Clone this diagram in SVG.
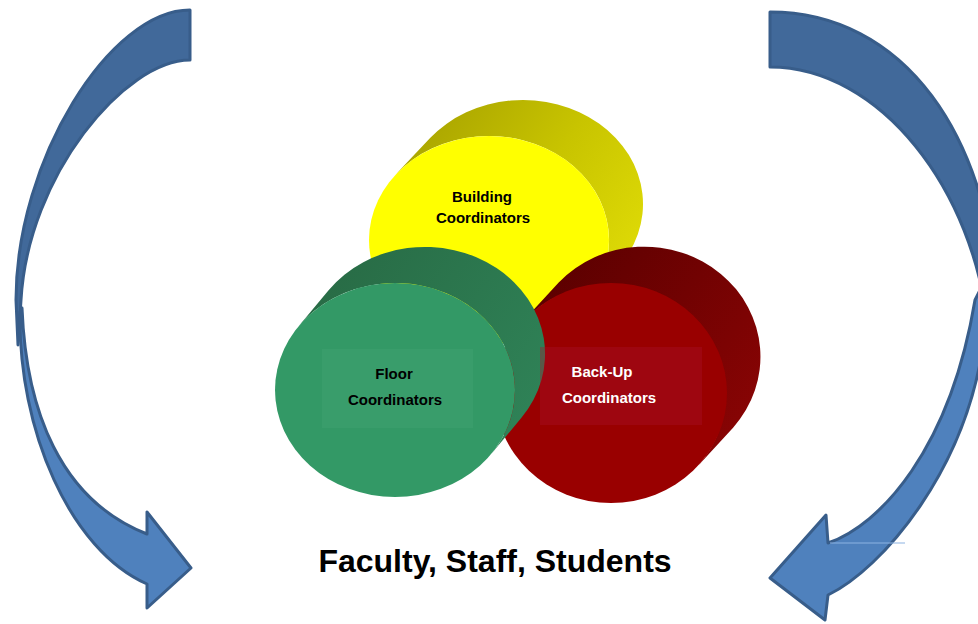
<svg xmlns="http://www.w3.org/2000/svg" width="978" height="624" viewBox="0 0 978 624">
<defs>
<linearGradient id="gY" gradientUnits="userSpaceOnUse" x1="440" y1="110" x2="640" y2="250">
<stop offset="0" stop-color="#ACA700"/><stop offset="0.5" stop-color="#C8C400"/><stop offset="1" stop-color="#DEDA06"/>
</linearGradient>
<linearGradient id="gG" gradientUnits="userSpaceOnUse" x1="330" y1="260" x2="545" y2="400">
<stop offset="0" stop-color="#286B45"/><stop offset="1" stop-color="#2F8257"/>
</linearGradient>
<linearGradient id="gR" gradientUnits="userSpaceOnUse" x1="560" y1="260" x2="760" y2="400">
<stop offset="0" stop-color="#5C0000"/><stop offset="1" stop-color="#870404"/>
</linearGradient>
</defs>
<style>
.lbl{font-family:"Liberation Sans",Arial,sans-serif;font-weight:bold;font-size:15px;text-anchor:middle}
.big{font-family:"Liberation Sans",Arial,sans-serif;font-weight:bold;font-size:32px;text-anchor:middle;fill:#000}
.back{fill:#41699A;stroke:#385D8A;stroke-width:3;stroke-linejoin:round}
.front{fill:#4F81BD;stroke:#385D8A;stroke-width:3;stroke-linejoin:round}
</style>
<rect width="978" height="624" fill="#FFFFFF"/>

<g id="connectors">
<g id="arrow-left">
<path class="back" d="M190,10 C110,10 16,160 16,300 L18,345 L21,300 C28,175 125,60 190,60 Z"/>
<path class="front" d="M20,312 C18,430 70,550 147,584 L147,608 L191,568 L147,512 L147,534 C60,500 26,410 22,308 Z"/>
</g>
<g id="arrow-right">
<path class="back" d="M770,12 C900,12 995,130 1000,330 L988,330 C975,190 880,67 770,67 Z"/>
<path class="front" d="M980,290 L985,330 C970,470 880,570 828,595 L825,620 L770,578 L826,515 L828,543 C880,525 950,450 975,300 Z"/>
<line x1="830" y1="543" x2="905" y2="543" stroke="#8DB3E2" stroke-width="1"/>
</g>
</g>

<g id="node-building">
<path fill="url(#gY)" d="M396.1,174.1 L430.1,138.1 A120,104 0 0 1 615.9,269.9 L581.9,305.9 A120,104 0 0 0 396.1,174.1 Z"/>
<ellipse cx="489" cy="240" rx="120" ry="104" fill="#FFFF00"/>
<text class="lbl" x="482" y="202" fill="#000">Building</text>
<text class="lbl" x="483" y="223" fill="#000">Coordinators</text>
</g>

<g id="node-backup">
<path fill="url(#gR)" d="M523.7,320.6 L558.7,282.6 A116,110 0 0 1 733.3,427.4 L698.3,465.4 A116,110 0 0 0 523.7,320.6 Z"/>
<ellipse cx="611" cy="393" rx="116" ry="110" fill="#990000"/>
</g>

<g id="node-floor">
<path fill="url(#gG)" d="M298.6,326.2 L328.6,290.2 A120,107 0 0 1 521.4,417.8 L491.4,453.8 A120,107 0 0 0 298.6,326.2 Z"/>
<ellipse cx="395" cy="390" rx="120" ry="107" fill="#339966"/>
<rect x="322" y="349" width="151" height="79" fill="#45A575" opacity="0.35"/>
<text class="lbl" x="394" y="379" fill="#000">Floor</text>
<text class="lbl" x="395" y="405" fill="#000">Coordinators</text>
</g>

<g id="node-backup-label">
<rect x="540" y="347" width="162" height="78" fill="#A8102E" opacity="0.35"/>
<text class="lbl" x="602" y="377" fill="#FFFFFF">Back-Up</text>
<text class="lbl" x="609" y="403" fill="#FFFFFF">Coordinators</text>
</g>

<g id="node-audience">
<text class="big" x="495" y="572">Faculty, Staff, Students</text>
</g>
</svg>
